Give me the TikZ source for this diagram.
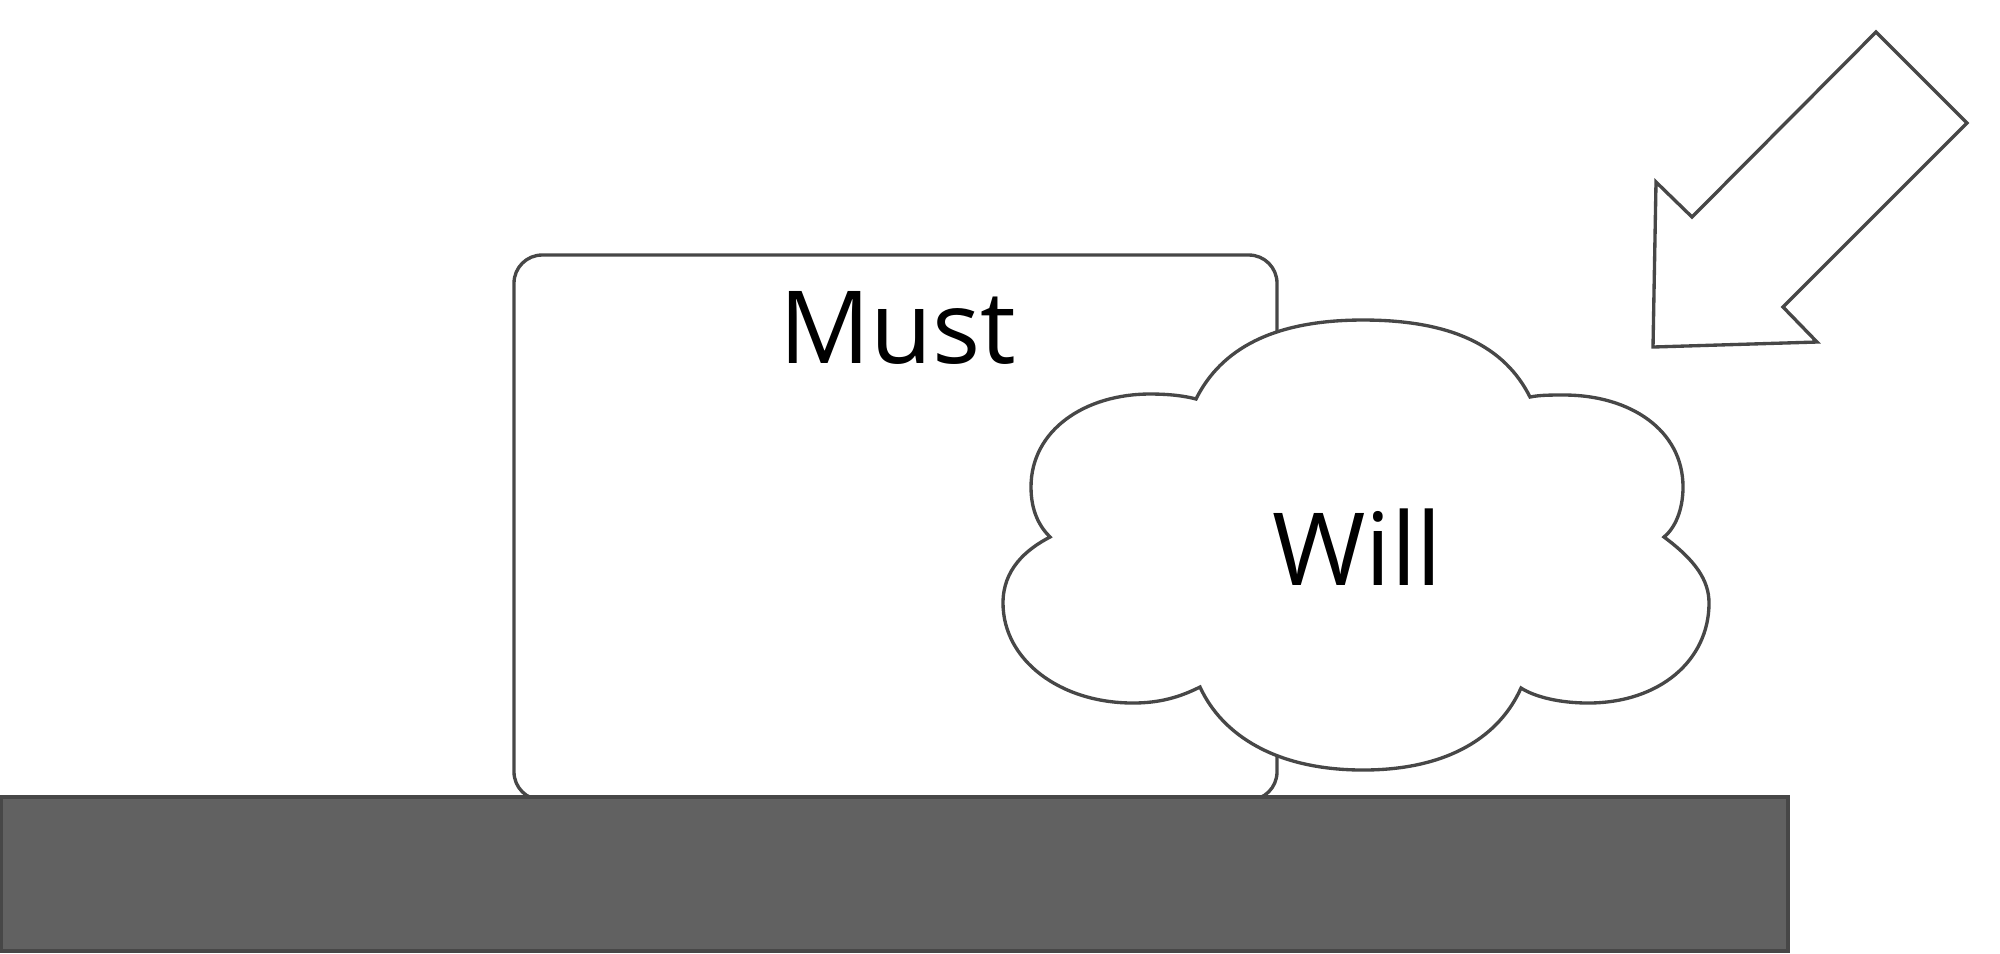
\documentclass[tikz,border=0pt]{standalone}
\usepackage{fontspec}
\setmainfont{Open Sans}
\begin{document}
\begin{tikzpicture}[x=0.01cm,y=-0.01cm,
  outline/.style={draw=black!72,line width=0.95pt,line join=miter},
  lbl/.style={anchor=base,inner sep=0pt,font=\fontsize{28.7}{34}\selectfont,text=black}]
\useasboundingbox (0,0) rectangle (2000,953);
% Must box
\draw[outline,fill=white,rounded corners=8pt] (514,255) rectangle (1277,800);
\node[lbl] (must) at (898,363) {Must};
% ground
\draw[draw=black!72,line width=1.1pt,fill=black!62] (1,797) rectangle (1788,951);
% cloud
\draw[outline,fill=white]
  (1196,399) .. controls (1221,349) and (1273,320) .. (1363,320)
  .. controls (1453,320) and (1505,347) .. (1530,397)
  .. controls (1540,395) and (1550,395) .. (1564,395)
  .. controls (1630,395) and (1683,430) .. (1683,487)
  .. controls (1683,510) and (1675,528) .. (1664,537)
  .. controls (1695,560) and (1709,580) .. (1709,603)
  .. controls (1709,660) and (1660,703) .. (1588,703)
  .. controls (1560,703) and (1535,697) .. (1521,688)
  .. controls (1500,735) and (1450,770) .. (1363,770)
  .. controls (1276,770) and (1222,735) .. (1200,687)
  .. controls (1180,697) and (1160,703) .. (1133,703)
  .. controls (1060,703) and (1003,660) .. (1003,603)
  .. controls (1003,570) and (1025,550) .. (1050,537)
  .. controls (1040,527) and (1031,512) .. (1031,487)
  .. controls (1031,430) and (1085,394) .. (1150,394)
  .. controls (1170,394) and (1185,396) .. (1196,399) -- cycle;
\node[lbl] (will) at (1357,585) {Will};
% block arrow
\draw[outline,fill=white] (1876,32) -- (1967,123) -- (1783,307) -- (1817,342)
  -- (1653,347) -- (1656,182) -- (1692,217) -- cycle;
\end{tikzpicture}
\end{document}
